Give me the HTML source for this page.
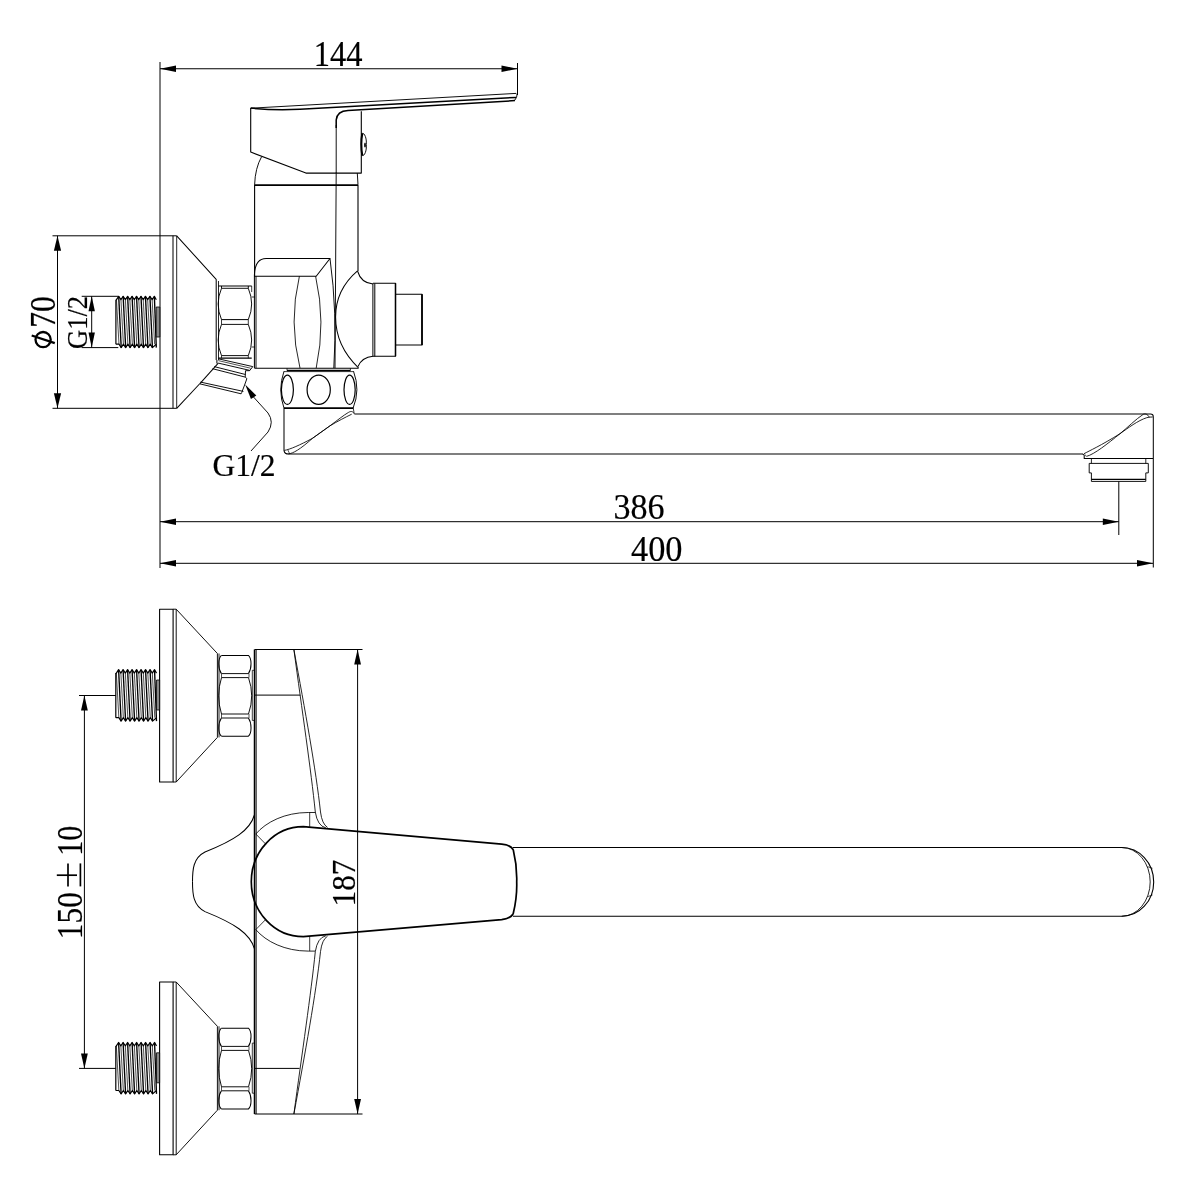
<!DOCTYPE html>
<html><head><meta charset="utf-8"><style>
html,body{margin:0;padding:0;background:#fff;}
svg{display:block;will-change:transform;}
text{font-family:"Liberation Serif",serif;fill:#000;stroke:#000;stroke-width:0.2px;}
</style></head><body>
<svg width="1200" height="1200" viewBox="0 0 1200 1200">
<rect width="1200" height="1200" fill="#fff"/>
<g fill="none" stroke="#000" stroke-width="1" stroke-linecap="butt" stroke-linejoin="round">
<line x1="160" y1="62" x2="160" y2="568"/>
<line x1="517.5" y1="63" x2="517.5" y2="95"/>
<line x1="160" y1="68.75" x2="517.5" y2="68.75"/>
<path d="M160,68.75 L176,65.55 L176,71.95 Z" fill="#000" stroke="none"/>
<path d="M517.5,68.75 L501.5,71.95 L501.5,65.55 Z" fill="#000" stroke="none"/>
<text x="313.75" y="66" font-size="35" textLength="48.75" lengthAdjust="spacingAndGlyphs">144</text>
<path d="M250.7,108.1 L250.7,152.1 L305.9,173.1 L361.3,173.1 L361.3,111.2" stroke-width="1.1"/>
<path d="M250.7,108.2 L516,93.4 Q518.5,95 514.5,100.6" stroke-width="0.94"/>
<path d="M250.7,108.1 Q275,110.5 300,109.2 L516,97.4" stroke-width="1.53"/>
<path d="M336.2,128 L336.2,120 Q337,111 348,110.5 L515,100.6" stroke-width="1.53"/>
<line x1="336.2" y1="125" x2="336.2" y2="173" stroke-width="0.94"/>
<path d="M362.3,133.3 Q360.3,144.5 362.3,155.6" stroke-width="2.04"/>
<path d="M362.3,133.3 C364.5,133 366.8,138 366.3,144.5 C366.8,151 364.5,156 362.3,155.6" stroke-width="0.94"/>
<ellipse cx="365" cy="145" rx="0.9" ry="2.6" fill="#000" stroke="none"/>
<path d="M261.6,156.7 Q255.2,168 254.6,184.8" stroke-width="0.94"/>
<path d="M357.3,173.1 L358,184.8" stroke-width="0.94"/>
<line x1="254.6" y1="185.1" x2="358" y2="185.1" stroke-width="1.87"/>
<line x1="254.6" y1="184.8" x2="254.6" y2="276.3" stroke-width="1.1"/>
<line x1="336.2" y1="172.5" x2="335" y2="368.1" stroke-width="0.94"/>
<line x1="358" y1="185" x2="358" y2="271" stroke-width="1.1"/>
<path d="M357.5,271 Q361,283 373,284" stroke-width="1.02"/>
<path d="M358,366.5 Q362,357 373,356.2" stroke-width="1.02"/>
<path d="M357.5,270.8 C342,284 335.6,300 335.6,317 C335.6,336 343,353 358.5,367.8" stroke-width="1.02"/>
<line x1="372.9" y1="283.5" x2="372.9" y2="356.5"/>
<line x1="374.8" y1="283.5" x2="374.8" y2="356.5"/>
<path d="M373,283.2 L395.5,283.2 L395.5,356.2 L373,356.2" stroke-width="1.02"/>
<line x1="395.5" y1="283.2" x2="395.5" y2="356.2" stroke-width="1.53"/>
<path d="M395,294.3 L422,294.3 L422,345 L395,345" stroke-width="1.1"/>
<line x1="422" y1="294.3" x2="422" y2="345" stroke-width="1.7"/>
<path d="M254.4,368.1 L254.4,275 Q255,258.5 266.2,258.5 L330,258.5 L316.2,276.2 L254.4,276.2" stroke-width="1.02"/>
<path d="M330,258.5 Q337.5,313 333.8,368.1" stroke-width="0.94"/>
<path d="M299.4,276.2 Q288.5,322 300,368.1" stroke-width="0.85"/>
<path d="M315.6,276.2 Q326,322 316.2,368.1" stroke-width="0.85"/>
<line x1="256" y1="276.2" x2="256" y2="368.1" stroke-width="0.94"/>
<line x1="254.4" y1="368.3" x2="358.6" y2="368.3" stroke-width="1.02"/>
<line x1="52.5" y1="235.8" x2="176.7" y2="235.8"/>
<line x1="52.5" y1="408.3" x2="176.7" y2="408.3"/>
<line x1="173" y1="235.8" x2="173" y2="408.3" stroke-width="1.02"/>
<line x1="176.7" y1="235.8" x2="176.7" y2="408.3" stroke-width="0.85"/>
<path d="M176.7,235.8 L216.2,279.4 L216.2,360" stroke-width="1.02"/>
<line x1="218.5" y1="281" x2="218.5" y2="360" stroke-width="0.85"/>
<path d="M199.5,384 L176.7,408.3" stroke-width="1.02"/>
<path d="M218.3,286 L251.7,286" stroke-width="1.1"/>
<path d="M221.5,286 L221.5,288.3 L248.3,288.3 L248.3,286" stroke-width="0.94"/>
<line x1="221.5" y1="319.6" x2="248.3" y2="319.6" stroke-width="1.02"/>
<line x1="221.5" y1="324.4" x2="248.3" y2="324.4" stroke-width="0.94"/>
<line x1="221.5" y1="319.6" x2="221.5" y2="324.4" stroke-width="0.77"/>
<line x1="248.3" y1="319.6" x2="248.3" y2="324.4" stroke-width="0.77"/>
<path d="M221.5,355.6 L248.3,355.6" stroke-width="0.94"/>
<path d="M218.3,358.2 L251.7,358.2" stroke-width="1.27"/>
<line x1="221.5" y1="355.6" x2="221.5" y2="358.2" stroke-width="0.77"/>
<line x1="248.3" y1="355.6" x2="248.3" y2="358.2" stroke-width="0.77"/>
<path d="M221.5,288.3 Q214.8,304 221.5,319.6 M221.5,324.4 Q214.8,340 221.5,355.6" stroke-width="0.94"/>
<path d="M248.3,288.3 Q255,304 248.3,319.6 M248.3,324.4 Q255,340 248.3,355.6" stroke-width="0.94"/>
<path d="M251.7,286 L251.7,292 M251.7,297 L255,297 M251.7,347 L255,347" stroke-width="0.77"/>
<path d="M218.3,358.8 L252.8,366.6 L249.6,370.7 L245.5,370.7 L245.2,377.1 L246.9,378.6 L244.6,385 L241.7,392.6 L241.1,393.8 L199.7,383.8" stroke-width="0.94"/>
<line x1="218.3" y1="360.6" x2="250.5" y2="368.2" stroke-width="0.68"/>
<line x1="218.3" y1="363.1" x2="249.8" y2="370.4" stroke-width="0.94"/>
<line x1="214.2" y1="366.6" x2="245.5" y2="374.5" stroke-width="0.94"/>
<line x1="212.5" y1="368.7" x2="245.2" y2="377.1" stroke-width="0.94"/>
<line x1="200.5" y1="382.1" x2="243.4" y2="391.4" stroke-width="0.94"/>
<line x1="218.3" y1="363.1" x2="199.7" y2="383.8" stroke-width="1.02"/>
<line x1="216.9" y1="360" x2="216.9" y2="363.4" stroke-width="1.02"/>
<path d="M245.2,384.4 L256.3,395.54 L250.95,399.04 Z" fill="#000" stroke="none"/>
<path d="M253.5,397 L268,413 Q274.5,422 268,432 L251,451" stroke-width="0.94"/>
<text x="212.5" y="476" font-size="32" textLength="63" lengthAdjust="spacingAndGlyphs">G1/2</text>
<line x1="287" y1="368.3" x2="287" y2="370.6" stroke-width="0.77"/>
<line x1="350.4" y1="368.3" x2="350.4" y2="370.6" stroke-width="0.77"/>
<line x1="287" y1="370.5" x2="350.4" y2="370.5" stroke-width="1.7"/>
<line x1="284" y1="371.6" x2="353.6" y2="371.6" stroke-width="0.77"/>
<path d="M284,371.2 Q277.5,390 284,408.1" stroke-width="0.94"/>
<path d="M353.5,371.2 Q360.5,390 353.1,408.1" stroke-width="0.94"/>
<line x1="284" y1="408.1" x2="353.5" y2="408.1" stroke-width="1.87"/>
<ellipse cx="287.4" cy="389.8" rx="6" ry="14.6" stroke-width="1.2"/>
<ellipse cx="318.7" cy="389.8" rx="11.6" ry="14.6" stroke-width="1.2"/>
<ellipse cx="349.6" cy="389.8" rx="5.6" ry="14.6" stroke-width="1.2"/>
<path d="M284,408.1 L284,450.6 Q284.5,454.1 288.8,454.1 L1083,454.1" stroke-width="1.02"/>
<path d="M354.4,414 L1150.5,414 Q1153.3,414 1153.3,416.8" stroke-width="1.02"/>
<path d="M284.2,450.4 C290,449.5 300,445 312.5,438.3 L330,425.8 C337,420.5 344,415 348.3,412.5 C350.5,411.2 352.5,410.8 354.2,413.6" stroke-width="0.85"/>
<path d="M288.3,453.9 C293,453.5 300,449.5 312.5,438.3 L330,425.8 C338,421 345,417.5 351.7,414.2" stroke-width="0.85"/>
<line x1="287.9" y1="450" x2="289.6" y2="453.8" stroke-width="0.68"/>
<line x1="353.3" y1="408.3" x2="354.2" y2="413.6" stroke-width="0.77"/>
<path d="M1082.8,454.1 L1084.2,455.2 L1084.2,458.4 L1153,458.4" stroke-width="1.02"/>
<path d="M1084,453.7 C1089,451 1101,445.5 1120,433.7 C1127,428 1136,419 1143.3,414.3 C1145,413.5 1147.5,413.8 1149.3,417.3" stroke-width="0.85"/>
<path d="M1086.7,456.3 C1094,454.5 1108,443.5 1120,433.7 C1128,428 1138,420.5 1146.7,417.7 C1149,417 1151,417 1152.7,417" stroke-width="0.85"/>
<line x1="1085.2" y1="454.6" x2="1086.3" y2="456.6" stroke-width="0.68"/>
<path d="M1091.4,458.4 L1091.4,463.4 M1145.8,458.4 L1145.8,463.4" stroke-width="0.85"/>
<path d="M1089.2,463.4 L1148.3,463.4 L1148.3,472.9 L1145.8,472.9 L1145.8,481.4 L1091.4,481.4 L1091.4,472.9 L1089.2,472.9 Z" stroke-width="0.94"/>
<line x1="1091.4" y1="479.3" x2="1145.8" y2="479.3" stroke-width="1.19"/>
<path d="M115.9,299.7 L116.47,299.7 L118.7,296.3 L120.93,299.7 L123.16,296.3 L125.39,299.7 L127.62,296.3 L129.85,299.7 L132.08,296.3 L134.31,299.7 L136.54,296.3 L138.76,299.7 L140.99,296.3 L143.22,299.7 L145.45,296.3 L147.68,299.7 L149.91,296.3 L152.14,299.7 L154.37,296.3 L156.3,299.7" stroke-width="1.19"/>
<path d="M115.9,344.2 L118.97,344.2 L121.2,347.6 L123.43,344.2 L125.66,347.6 L127.89,344.2 L130.12,347.6 L132.35,344.2 L134.58,347.6 L136.81,344.2 L139.04,347.6 L141.26,344.2 L143.49,347.6 L145.72,344.2 L147.95,347.6 L150.18,344.2 L152.41,347.6 L156.3,344.2" stroke-width="1.19"/>
<line x1="115.9" y1="299.7" x2="115.9" y2="344.2" stroke-width="1.19"/>
<line x1="118.7" y1="296.3" x2="121.2" y2="347.6" stroke-width="1.36"/>
<line x1="116.47" y1="299.7" x2="118.97" y2="344.2" stroke-width="0.68"/>
<line x1="123.16" y1="296.3" x2="125.66" y2="347.6" stroke-width="1.36"/>
<line x1="120.93" y1="299.7" x2="123.43" y2="344.2" stroke-width="0.68"/>
<line x1="127.62" y1="296.3" x2="130.12" y2="347.6" stroke-width="1.36"/>
<line x1="125.39" y1="299.7" x2="127.89" y2="344.2" stroke-width="0.68"/>
<line x1="132.08" y1="296.3" x2="134.58" y2="347.6" stroke-width="1.36"/>
<line x1="129.85" y1="299.7" x2="132.35" y2="344.2" stroke-width="0.68"/>
<line x1="136.54" y1="296.3" x2="139.04" y2="347.6" stroke-width="1.36"/>
<line x1="134.31" y1="299.7" x2="136.81" y2="344.2" stroke-width="0.68"/>
<line x1="140.99" y1="296.3" x2="143.49" y2="347.6" stroke-width="1.36"/>
<line x1="138.76" y1="299.7" x2="141.26" y2="344.2" stroke-width="0.68"/>
<line x1="145.45" y1="296.3" x2="147.95" y2="347.6" stroke-width="1.36"/>
<line x1="143.22" y1="299.7" x2="145.72" y2="344.2" stroke-width="0.68"/>
<line x1="149.91" y1="296.3" x2="152.41" y2="347.6" stroke-width="1.36"/>
<line x1="147.68" y1="299.7" x2="150.18" y2="344.2" stroke-width="0.68"/>
<line x1="154.37" y1="296.3" x2="156.3" y2="347.6" stroke-width="1.36"/>
<line x1="152.14" y1="299.7" x2="154.64" y2="344.2" stroke-width="0.68"/>
<rect x="156.2" y="307" width="3.6" height="30" fill="#888" stroke-width="0.8"/>
<line x1="81.7" y1="296.3" x2="118.3" y2="296.3"/>
<line x1="81.7" y1="347.6" x2="118.3" y2="347.6"/>
<line x1="91.7" y1="296.3" x2="91.7" y2="347.6"/>
<path d="M91.7,296.3 L94.9,311.3 L88.5,311.3 Z" fill="#000" stroke="none"/>
<path d="M91.7,347.6 L88.5,332.6 L94.9,332.6 Z" fill="#000" stroke="none"/>

<line x1="57.5" y1="235.8" x2="57.5" y2="408.3"/>
<path d="M57.5,235.8 L61.1,250.8 L53.9,250.8 Z" fill="#000" stroke="none"/>
<path d="M57.5,408.3 L53.9,393.3 L61.1,393.3 Z" fill="#000" stroke="none"/>
<line x1="160" y1="521.7" x2="1118.8" y2="521.7"/>
<path d="M160,521.7 L176,518.5 L176,524.9 Z" fill="#000" stroke="none"/>
<path d="M1118.8,521.7 L1102.8,524.9 L1102.8,518.5 Z" fill="#000" stroke="none"/>
<line x1="1118.8" y1="481.4" x2="1118.8" y2="535"/>
<text x="613.5" y="519.3" font-size="35" textLength="51" lengthAdjust="spacingAndGlyphs">386</text>
<line x1="160" y1="563.3" x2="1153" y2="563.3"/>
<path d="M160,563.3 L176,560.1 L176,566.5 Z" fill="#000" stroke="none"/>
<path d="M1153,563.3 L1137,566.5 L1137,560.1 Z" fill="#000" stroke="none"/>
<line x1="1153.3" y1="416.5" x2="1153.3" y2="567.5" stroke-width="1.02"/>
<text x="631" y="560.7" font-size="35" textLength="51.5" lengthAdjust="spacingAndGlyphs">400</text>
<rect x="159.6" y="609.2" width="13.5" height="172.8" stroke-width="1.1"/>
<line x1="176.2" y1="609.2" x2="176.2" y2="782" stroke-width="0.94"/>
<path d="M173.1,609.2 L176.2,609.2 L217.4,653.5 L217.4,737.4 L176.2,782 L173.1,782" stroke-width="0.94"/>
<line x1="219" y1="653.5" x2="219" y2="737.4" stroke-width="0.85"/>
<path d="M221.4,655.4 L248.4,655.4 C251.8,658.4 252,668.4 248.4,673.6" stroke-width="1.02"/>
<path d="M221.4,655.4 C218,658.4 217.8,668.4 221.4,673.6" stroke-width="1.02"/>
<path d="M221.4,736.2 L248.4,736.2 C251.8,733.2 252,723.2 248.4,718" stroke-width="1.02"/>
<path d="M221.4,736.2 C218,733.2 217.8,723.2 221.4,718" stroke-width="1.02"/>
<line x1="221.5" y1="673.6" x2="248.5" y2="673.6" stroke-width="0.94"/>
<line x1="221.5" y1="677.6" x2="248.5" y2="677.6" stroke-width="0.94"/>
<line x1="221.5" y1="714" x2="248.5" y2="714" stroke-width="0.94"/>
<line x1="221.5" y1="718" x2="248.5" y2="718" stroke-width="0.94"/>
<line x1="221.5" y1="673.6" x2="221.5" y2="677.6" stroke-width="0.68"/>
<line x1="249" y1="673.6" x2="249" y2="677.6" stroke-width="0.68"/>
<line x1="221.5" y1="714" x2="221.5" y2="718" stroke-width="0.68"/>
<line x1="249" y1="714" x2="249" y2="718" stroke-width="0.68"/>
<path d="M221.5,677.6 Q215.8,695.8 221.5,714" stroke-width="0.94"/>
<path d="M248.5,677.6 Q254.9,695.8 248.5,714" stroke-width="0.94"/>
<path d="M255,670.3 L252.3,670.3 L252.3,720.4 L255,720.4" stroke-width="0.77"/>
<path d="M115.8,673.1 L116.35,673.1 L118.6,669.7 L120.85,673.1 L123.09,669.7 L125.34,673.1 L127.59,669.7 L129.84,673.1 L132.08,669.7 L134.33,673.1 L136.58,669.7 L138.82,673.1 L141.07,669.7 L143.32,673.1 L145.56,669.7 L147.81,673.1 L150.06,669.7 L152.31,673.1 L154.55,669.7 L156.5,673.1" stroke-width="1.19"/>
<path d="M115.8,717.7 L118.85,717.7 L121.1,721.1 L123.35,717.7 L125.59,721.1 L127.84,717.7 L130.09,721.1 L132.34,717.7 L134.58,721.1 L136.83,717.7 L139.08,721.1 L141.32,717.7 L143.57,721.1 L145.82,717.7 L148.06,721.1 L150.31,717.7 L152.56,721.1 L156.5,717.7" stroke-width="1.19"/>
<line x1="115.8" y1="673.1" x2="115.8" y2="717.7" stroke-width="1.19"/>
<line x1="118.6" y1="669.7" x2="121.1" y2="721.1" stroke-width="1.36"/>
<line x1="116.35" y1="673.1" x2="118.85" y2="717.7" stroke-width="0.68"/>
<line x1="123.09" y1="669.7" x2="125.59" y2="721.1" stroke-width="1.36"/>
<line x1="120.85" y1="673.1" x2="123.35" y2="717.7" stroke-width="0.68"/>
<line x1="127.59" y1="669.7" x2="130.09" y2="721.1" stroke-width="1.36"/>
<line x1="125.34" y1="673.1" x2="127.84" y2="717.7" stroke-width="0.68"/>
<line x1="132.08" y1="669.7" x2="134.58" y2="721.1" stroke-width="1.36"/>
<line x1="129.84" y1="673.1" x2="132.34" y2="717.7" stroke-width="0.68"/>
<line x1="136.58" y1="669.7" x2="139.08" y2="721.1" stroke-width="1.36"/>
<line x1="134.33" y1="673.1" x2="136.83" y2="717.7" stroke-width="0.68"/>
<line x1="141.07" y1="669.7" x2="143.57" y2="721.1" stroke-width="1.36"/>
<line x1="138.82" y1="673.1" x2="141.32" y2="717.7" stroke-width="0.68"/>
<line x1="145.56" y1="669.7" x2="148.06" y2="721.1" stroke-width="1.36"/>
<line x1="143.32" y1="673.1" x2="145.82" y2="717.7" stroke-width="0.68"/>
<line x1="150.06" y1="669.7" x2="152.56" y2="721.1" stroke-width="1.36"/>
<line x1="147.81" y1="673.1" x2="150.31" y2="717.7" stroke-width="0.68"/>
<line x1="154.55" y1="669.7" x2="156.5" y2="721.1" stroke-width="1.36"/>
<line x1="152.31" y1="673.1" x2="154.81" y2="717.7" stroke-width="0.68"/>
<rect x="156.5" y="680" width="3.1" height="30" fill="#888" stroke-width="0.8"/>
<rect x="159.6" y="982" width="13.5" height="172.8" stroke-width="1.1"/>
<line x1="176.2" y1="982" x2="176.2" y2="1154.8" stroke-width="0.94"/>
<path d="M173.1,982 L176.2,982 L217.4,1026.3 L217.4,1110.2 L176.2,1154.8 L173.1,1154.8" stroke-width="0.94"/>
<line x1="219" y1="1026.3" x2="219" y2="1110.2" stroke-width="0.85"/>
<path d="M221.4,1028.2 L248.4,1028.2 C251.8,1031.2 252,1041.2 248.4,1046.4" stroke-width="1.02"/>
<path d="M221.4,1028.2 C218,1031.2 217.8,1041.2 221.4,1046.4" stroke-width="1.02"/>
<path d="M221.4,1109 L248.4,1109 C251.8,1106 252,1096 248.4,1090.8" stroke-width="1.02"/>
<path d="M221.4,1109 C218,1106 217.8,1096 221.4,1090.8" stroke-width="1.02"/>
<line x1="221.5" y1="1046.4" x2="248.5" y2="1046.4" stroke-width="0.94"/>
<line x1="221.5" y1="1050.4" x2="248.5" y2="1050.4" stroke-width="0.94"/>
<line x1="221.5" y1="1086.8" x2="248.5" y2="1086.8" stroke-width="0.94"/>
<line x1="221.5" y1="1090.8" x2="248.5" y2="1090.8" stroke-width="0.94"/>
<line x1="221.5" y1="1046.4" x2="221.5" y2="1050.4" stroke-width="0.68"/>
<line x1="249" y1="1046.4" x2="249" y2="1050.4" stroke-width="0.68"/>
<line x1="221.5" y1="1086.8" x2="221.5" y2="1090.8" stroke-width="0.68"/>
<line x1="249" y1="1086.8" x2="249" y2="1090.8" stroke-width="0.68"/>
<path d="M221.5,1050.4 Q215.8,1068.6 221.5,1086.8" stroke-width="0.94"/>
<path d="M248.5,1050.4 Q254.9,1068.6 248.5,1086.8" stroke-width="0.94"/>
<path d="M255,1043.1 L252.3,1043.1 L252.3,1093.2 L255,1093.2" stroke-width="0.77"/>
<path d="M115.8,1045.9 L116.35,1045.9 L118.6,1042.5 L120.85,1045.9 L123.09,1042.5 L125.34,1045.9 L127.59,1042.5 L129.84,1045.9 L132.08,1042.5 L134.33,1045.9 L136.58,1042.5 L138.82,1045.9 L141.07,1042.5 L143.32,1045.9 L145.56,1042.5 L147.81,1045.9 L150.06,1042.5 L152.31,1045.9 L154.55,1042.5 L156.5,1045.9" stroke-width="1.19"/>
<path d="M115.8,1090.5 L118.85,1090.5 L121.1,1093.9 L123.35,1090.5 L125.59,1093.9 L127.84,1090.5 L130.09,1093.9 L132.34,1090.5 L134.58,1093.9 L136.83,1090.5 L139.08,1093.9 L141.32,1090.5 L143.57,1093.9 L145.82,1090.5 L148.06,1093.9 L150.31,1090.5 L152.56,1093.9 L156.5,1090.5" stroke-width="1.19"/>
<line x1="115.8" y1="1045.9" x2="115.8" y2="1090.5" stroke-width="1.19"/>
<line x1="118.6" y1="1042.5" x2="121.1" y2="1093.9" stroke-width="1.36"/>
<line x1="116.35" y1="1045.9" x2="118.85" y2="1090.5" stroke-width="0.68"/>
<line x1="123.09" y1="1042.5" x2="125.59" y2="1093.9" stroke-width="1.36"/>
<line x1="120.85" y1="1045.9" x2="123.35" y2="1090.5" stroke-width="0.68"/>
<line x1="127.59" y1="1042.5" x2="130.09" y2="1093.9" stroke-width="1.36"/>
<line x1="125.34" y1="1045.9" x2="127.84" y2="1090.5" stroke-width="0.68"/>
<line x1="132.08" y1="1042.5" x2="134.58" y2="1093.9" stroke-width="1.36"/>
<line x1="129.84" y1="1045.9" x2="132.34" y2="1090.5" stroke-width="0.68"/>
<line x1="136.58" y1="1042.5" x2="139.08" y2="1093.9" stroke-width="1.36"/>
<line x1="134.33" y1="1045.9" x2="136.83" y2="1090.5" stroke-width="0.68"/>
<line x1="141.07" y1="1042.5" x2="143.57" y2="1093.9" stroke-width="1.36"/>
<line x1="138.82" y1="1045.9" x2="141.32" y2="1090.5" stroke-width="0.68"/>
<line x1="145.56" y1="1042.5" x2="148.06" y2="1093.9" stroke-width="1.36"/>
<line x1="143.32" y1="1045.9" x2="145.82" y2="1090.5" stroke-width="0.68"/>
<line x1="150.06" y1="1042.5" x2="152.56" y2="1093.9" stroke-width="1.36"/>
<line x1="147.81" y1="1045.9" x2="150.31" y2="1090.5" stroke-width="0.68"/>
<line x1="154.55" y1="1042.5" x2="156.5" y2="1093.9" stroke-width="1.36"/>
<line x1="152.31" y1="1045.9" x2="154.81" y2="1090.5" stroke-width="0.68"/>
<rect x="156.5" y="1052.8" width="3.1" height="30" fill="#888" stroke-width="0.8"/>
<line x1="79" y1="695.5" x2="115.8" y2="695.5"/>
<line x1="79" y1="1068.4" x2="115.8" y2="1068.4"/>
<line x1="84.4" y1="695.5" x2="84.4" y2="1068.4"/>
<path d="M84.4,695.5 L87.8,710.5 L81,710.5 Z" fill="#000" stroke="none"/>
<path d="M84.4,1068.4 L81,1053.4 L87.8,1053.4 Z" fill="#000" stroke="none"/>
<line x1="254.6" y1="649.6" x2="254.6" y2="1114" stroke-width="1.7"/>
<line x1="256.3" y1="649.6" x2="256.3" y2="1114" stroke-width="0.77"/>
<line x1="254.6" y1="649.6" x2="362.5" y2="649.6" stroke-width="1.02"/>
<line x1="254.6" y1="1114" x2="362.5" y2="1114" stroke-width="1.02"/>
<line x1="357.6" y1="649.6" x2="357.6" y2="1114"/>
<path d="M357.6,649.6 L361,664.6 L354.2,664.6 Z" fill="#000" stroke="none"/>
<path d="M357.6,1114 L354.2,1099 L361,1099 Z" fill="#000" stroke="none"/>
<line x1="254.9" y1="695.1" x2="300.4" y2="695.1"/>
<line x1="254.9" y1="1068.4" x2="299.5" y2="1068.4"/>
<path d="M293.9,649.6 C302,710 311,770 315.3,812 Q317.5,826 325.8,827.8" stroke-width="0.85"/>
<path d=" M293.9,1114 C302,1053.6,311,993.6,315.3,951.6 Q317.5,937.6,325.8,935.8" stroke-width="0.85"/>
<path d="M293.9,649.6 C305,710 316,770 320.5,812 Q322,824 327.5,827.4" stroke-width="0.85"/>
<path d=" M293.9,1114 C305,1053.6,316,993.6,320.5,951.6 Q322,939.6,327.5,936.2" stroke-width="0.85"/>
<path d="M255.8,834 C266,822 285,812.5 308.2,812.5 L315.3,812.5" stroke-width="0.85"/>
<path d=" M255.8,929.6 C266,941.6,285,951.1,308.2,951.1 L315.3,951.1" stroke-width="0.85"/>
<path d="M309.7,812.5 L309.7,826.9" stroke-width="0.77"/>
<path d=" M309.7,951.1 L309.7,936.7" stroke-width="0.77"/>
<path d="M255.8,834 L265.8,844.2" stroke-width="0.77"/>
<path d=" M255.8,929.6 L265.8,919.4" stroke-width="0.77"/>
<path d="M254.4,815 C250,830 235,840 205,852 C193,858 192.5,870 192.5,881.8" stroke-width="1.02"/>
<path d=" M254.4,948.6 C250,933.6,235,923.6,205,911.6 C193,905.6,192.5,893.6,192.5,881.8" stroke-width="1.02"/>
<path d="M303.3,826.7 L501.7,844.2 Q511,845 513.3,850 Q517.2,866 516.7,881.7 Q517.2,897 513.3,913.3 Q511,918.5 501.7,919.7 L303.3,936.7 A52,55 0 0 1 303.3,826.7 Z" stroke-width="1.7"/>
<path d="M513,847.5 L1121.7,847.5 A32,34.4 0 0 1 1121.7,916.3 L513,916.3" stroke-width="1.1"/>
<path d="M1121.7,847.5 A28.5,34.4 0 0 1 1121.7,916.3" stroke-width="0.85"/>
<line x1="1147.5" y1="866.7" x2="1152.5" y2="868.3" stroke-width="0.68"/>
<line x1="1147.5" y1="896.7" x2="1152.5" y2="895" stroke-width="0.68"/>
<text x="0" y="0" font-size="35" textLength="31.5" lengthAdjust="spacingAndGlyphs" transform="translate(55,327.8) rotate(-90)">70</text>
<circle cx="43.1" cy="339.6" r="7.6" stroke-width="2.3"/>
<line x1="31.7" y1="335.5" x2="54.8" y2="343.1" stroke-width="2.3"/>
<text x="0" y="0" font-size="29" textLength="53" lengthAdjust="spacingAndGlyphs" transform="translate(86.7,349) rotate(-90)">G1/2</text>
<text x="0" y="0" font-size="35" textLength="47" lengthAdjust="spacingAndGlyphs" transform="translate(81.5,939.2) rotate(-90)">150</text>
<text x="0" y="0" font-size="35" textLength="30" lengthAdjust="spacingAndGlyphs" transform="translate(81.5,855.8) rotate(-90)">10</text>
<line x1="68" y1="863.4" x2="68" y2="886.4" stroke-width="1.7"/>
<line x1="56.8" y1="875.2" x2="77" y2="875.2" stroke-width="1.7"/>
<line x1="80.4" y1="863.4" x2="80.4" y2="886.4" stroke-width="1.7"/>
<text x="0" y="0" font-size="34" textLength="47" lengthAdjust="spacingAndGlyphs" transform="translate(355,906.5) rotate(-90)">187</text>

</g>
</svg>
</body></html>
